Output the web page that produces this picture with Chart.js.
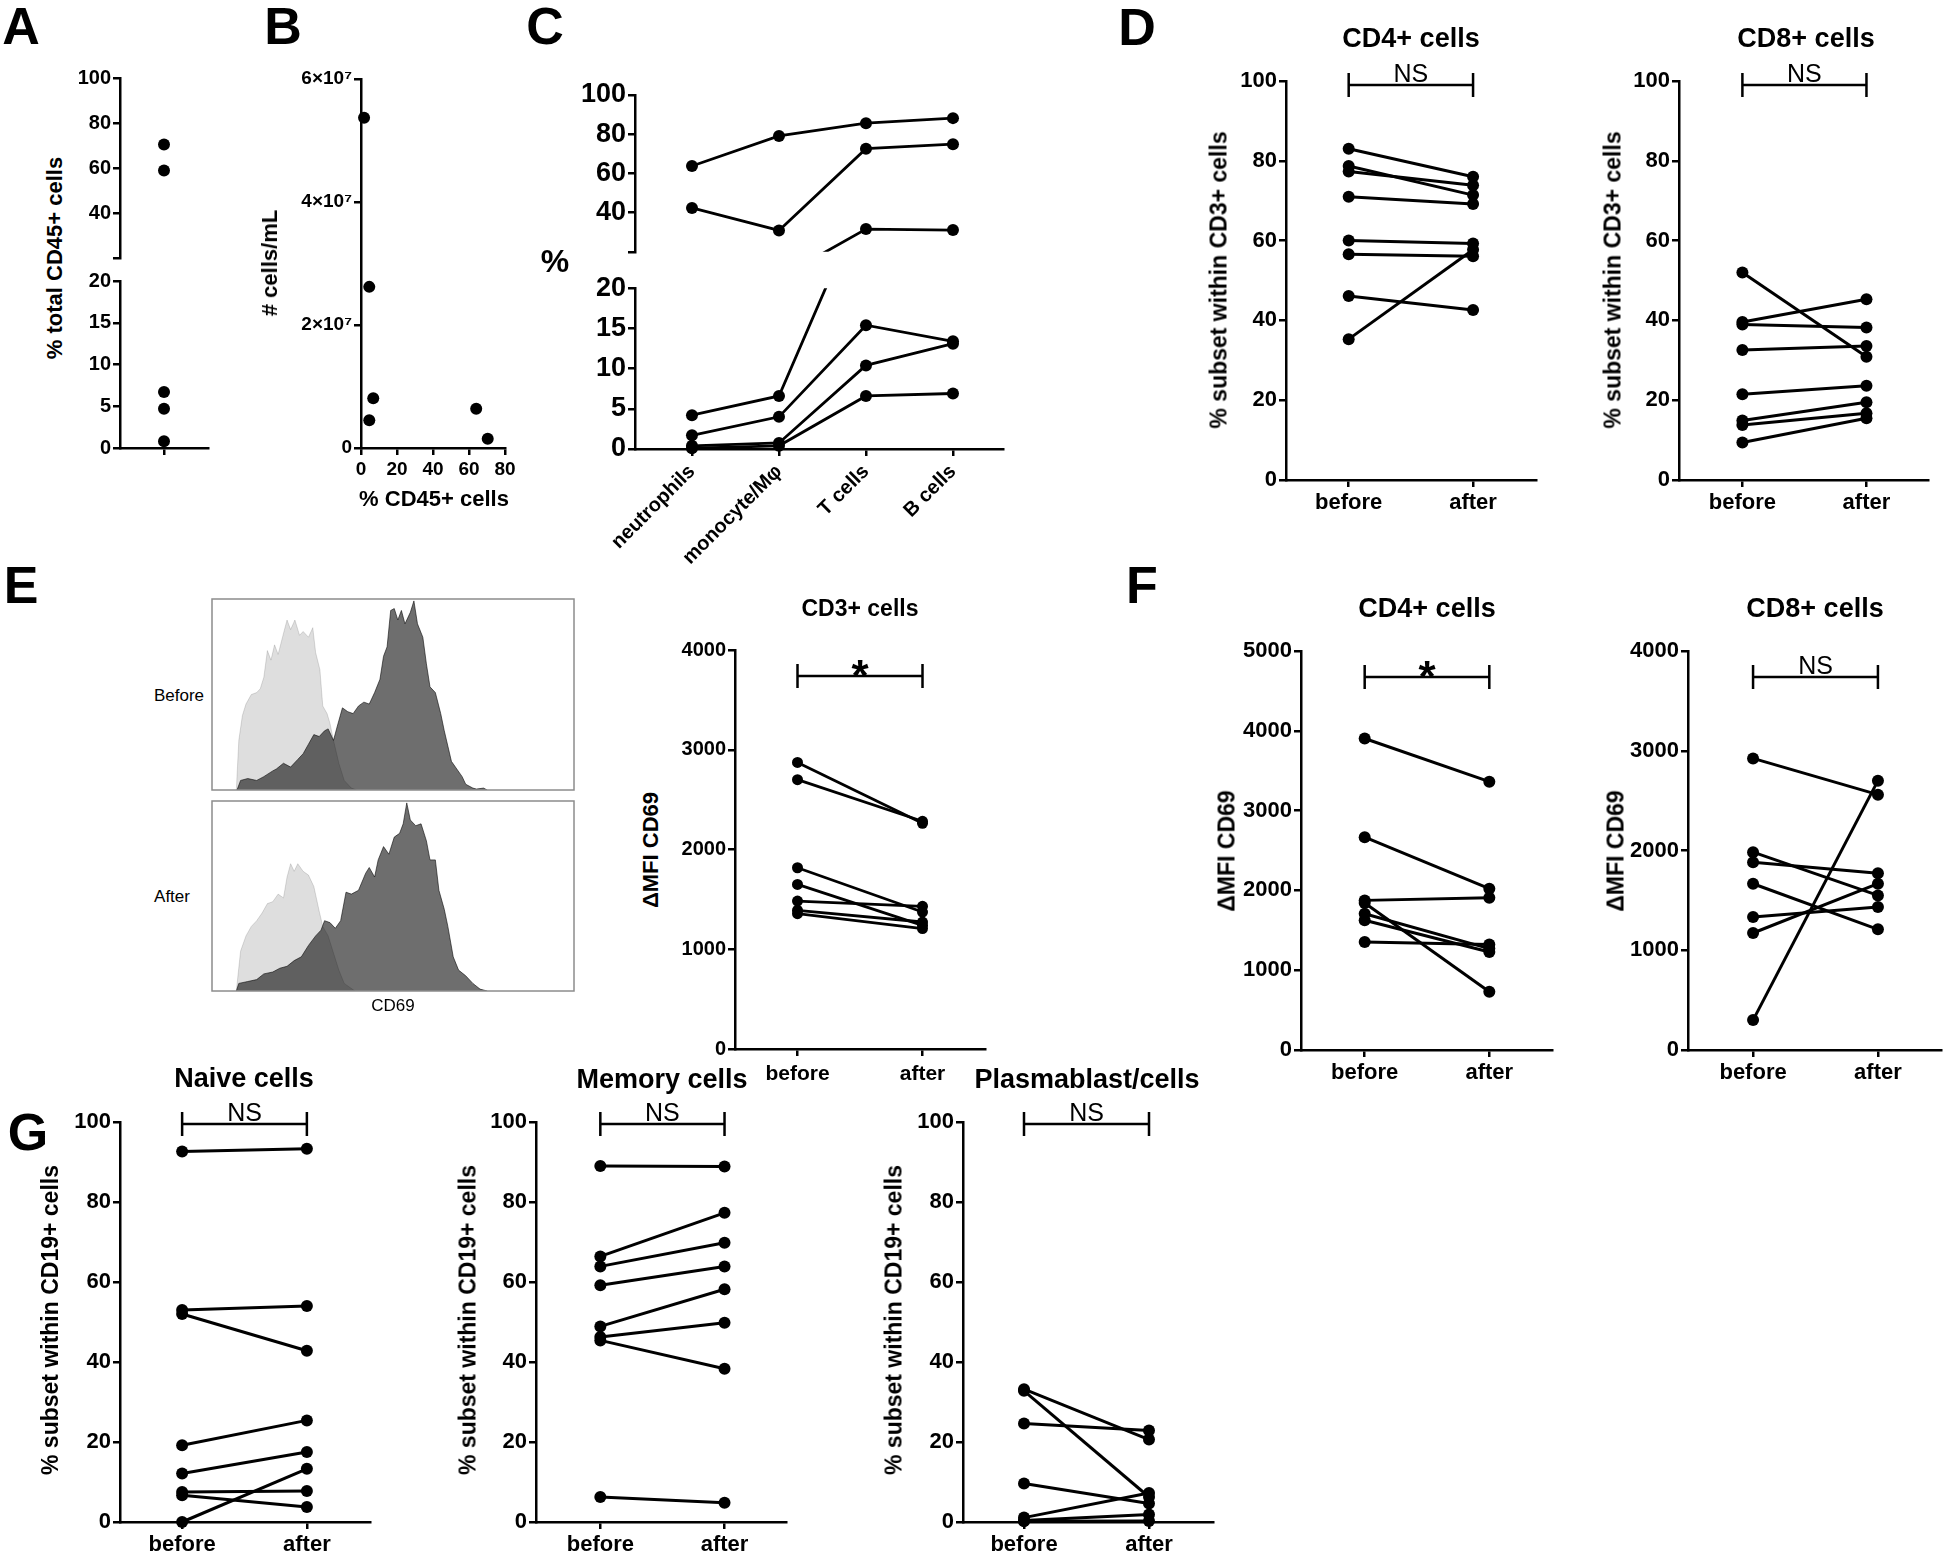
<!DOCTYPE html>
<html>
<head>
<meta charset="utf-8">
<script src="https://cdn.jsdelivr.net/npm/chart.js"></script>
<style>
    body { margin: 0; background: #fff; width: 1944px; height: 1555px; position: relative; overflow: hidden;
           font-family: "Liberation Sans", Arial, sans-serif; color: #000; }
    canvas { position: absolute; }
    .t { position: absolute; white-space: nowrap; line-height: 1; transform: translate(-50%, -50%); }
    .rot { transform: translate(-50%, -50%) rotate(-90deg); }
    .letter { font-weight: bold; font-size: 52px; }
    .ytitle { font-weight: bold; font-size: 23px; }
    .title { font-weight: bold; font-size: 27px; }
    .plain { font-size: 17px; }
</style>
</head>
<body>
<script>
// ---- data ----

// A: % total CD45+ cells
const aTotalCD45 = [70.4, 58.9, 6.7, 4.7, 0.8];

// B: cell counts vs % CD45+
const bPctCD45 = [1.7, 4.6, 6.8, 4.6, 64, 70.4];
const bCellsPerMl = [5.37e7, 2.62e7, 0.81e7, 0.45e7, 0.64e7, 0.15e7];

// C: composition per subject
const cCategories = ['neutrophils', 'monocyte/Mφ', 'T cells', 'B cells'];
const cNeutrophils = [63.8, 42.4, 4.2, 1.7, 0.4, 0.1];
const cMonocytes = [79.1, 30.9, 6.6, 4.0, 0.75, 0.4];
const cTCells = [85.6, 72.6, 31.6, 15.4, 10.4, 6.6];
const cBCells = [88.2, 74.9, 31.1, 13.4, 13.1, 6.9];

// before / after pairs
const timepoints = ['before', 'after'];

const cd4PctBefore = [83, 78.7, 77.3, 71, 60, 56.6, 46.1, 35.3];
const cd4PctAfter = [76, 71.4, 73.9, 69.2, 59.3, 56.1, 42.6, 57.7];
const cd8PctBefore = [52, 39.6, 39, 32.6, 21.5, 14.9, 13.8, 9.4];
const cd8PctAfter = [30.9, 45.3, 38.2, 33.6, 23.6, 19.5, 16.7, 15.5];

const cd3MfiBefore = [2873, 2700, 1817, 1650, 1483, 1390, 1357];
const cd3MfiAfter = [2263, 2283, 1373, 1240, 1430, 1273, 1207];

const cd4MfiBefore = [3904, 2667, 1875, 1842, 1708, 1625, 1354];
const cd4MfiAfter = [3363, 2021, 1908, 729, 1271, 1229, 1321];
const cd8MfiBefore = [2923, 300, 1983, 1883, 1667, 1333, 1173];
const cd8MfiAfter = [2560, 2700, 1550, 1773, 1210, 1433, 1667];

const naiveBefore = [92.6, 53, 52, 19.2, 12.1, 7.5, 6.7, 0];
const naiveAfter = [93.3, 54, 42.8, 25.4, 17.5, 7.75, 3.75, 13.3];
const memoryBefore = [89, 66.4, 63.9, 59.2, 48.9, 46.25, 45.4, 6.25];
const memoryAfter = [88.9, 77.3, 69.8, 63.9, 58.2, 49.8, 38.3, 4.8];
const plasmaBefore = [33.2, 32.8, 24.6, 9.6, 1.1, 0.4, 0.2];
const plasmaAfter = [20.6, 6.25, 22.9, 4.6, 7.25, 1.9, 0.25];

// E: CD69 histograms (channel, % of max count)
const histBeforeIsoX = [68, 75, 85, 95, 110, 125, 135, 145, 155, 165, 175, 185, 200, 210, 220, 232, 245, 255, 270, 282, 290, 302, 310, 322, 330, 340, 355, 370, 390, 405];
const histBeforeIsoY = [0, 26, 39, 45, 50, 51, 53, 59, 73, 68, 76, 71, 82, 89, 84, 89, 81, 83, 80, 85, 72, 63, 44, 40, 35, 26, 14, 5, 1, 0];
const histBeforeCd69X = [70, 80, 100, 125, 145, 170, 180, 200, 220, 240, 255, 270, 285, 300, 315, 325, 340, 350, 365, 380, 395, 410, 425, 440, 455, 470, 480, 490, 500, 510, 520, 530, 540, 555, 565, 575, 590, 600, 610, 625, 640, 650, 660, 670, 685, 700, 710, 730, 740, 760, 770];
const histBeforeCd69Y = [0, 5, 6, 5, 7, 10, 11, 14, 12, 16, 19, 24, 29, 28, 31, 32, 26, 33, 43, 41, 40, 44, 46, 45, 51, 58, 70, 75, 94, 95, 89, 94, 87, 93, 99, 87, 80, 66, 54, 51, 40, 31, 23, 15, 11, 7, 3, 1, 0.5, 1, 0];
const histAfterIsoX = [68, 80, 95, 110, 125, 140, 155, 170, 185, 200, 210, 220, 230, 240, 255, 270, 285, 300, 310, 325, 340, 355, 370, 400];
const histAfterIsoY = [0, 21, 29, 34, 37, 41, 46, 47, 51, 49, 60, 67, 63, 67, 63, 61, 55, 42, 34, 29, 20, 11, 4, 0];
const histAfterCd69X = [68, 75, 100, 125, 145, 170, 190, 210, 230, 250, 270, 290, 305, 315, 330, 345, 360, 375, 390, 410, 430, 440, 455, 465, 480, 495, 510, 525, 535, 545, 555, 570, 585, 600, 610, 625, 635, 650, 660, 675, 690, 710, 730, 750, 770];
const histAfterCd69Y = [0, 4, 5, 6, 9, 10, 12, 13, 16, 18, 24, 29, 32, 37, 36, 33, 37, 52, 51, 53, 62, 65, 60, 69, 76, 72, 81, 83, 88, 99, 90, 87, 88, 79, 69, 69, 53, 43, 34, 18, 11, 8, 4, 1, 0];

// ---- helpers ----
const BOLD = '"Liberation Sans", Arial, sans-serif';

function text(str, cx, cy, cls, size) {
    const d = document.createElement('div');
    d.className = 't ' + cls;
    d.textContent = str;
    d.style.left = cx + 'px';
    d.style.top = cy + 'px';
    if (size) d.style.fontSize = size + 'px';
    document.body.appendChild(d);
}

// area = [left, top, right, bottom] of the plot area; m = margins round it
function addCanvas(area, m) {
    const c = document.createElement('canvas');
    c.width = area[2] - area[0] + m[0] + m[2];
    c.height = area[3] - area[1] + m[1] + m[3];
    c.style.left = (area[0] - m[0]) + 'px';
    c.style.top = (area[1] - m[1]) + 'px';
    document.body.appendChild(c);
    return c;
}

function yAxis(o) {
    return {
        type: 'linear', min: o.min, max: o.max,
        afterFit: s => { s.width = o.w; },
        ticks: {
            stepSize: o.step, color: '#000', padding: 2, font: o.font,
            callback: o.cb || (v => v)
        },
        grid: { display: true, drawOnChartArea: false, drawTicks: true, tickLength: 7, color: '#000', lineWidth: 2.5 },
        border: { display: true, color: '#000', width: 2.5 }
    };
}

function xAxis(o) {
    const ax = {
        type: 'linear', min: o.min, max: o.max, display: o.display !== false,
        afterBuildTicks: s => { s.ticks = o.ticks.map(v => ({ value: v })); },
        ticks: {
            color: '#000', font: o.font, padding: o.pad || 3, autoSkip: false,
            maxRotation: o.rot || 0, minRotation: o.rot || 0,
            callback: (v, i) => (o.labels ? o.labels[i] : '')
        },
        grid: { display: true, drawOnChartArea: false, drawTicks: true, tickLength: 7, color: '#000', lineWidth: 2.5 },
        border: { display: true, color: '#000', width: 2.5 }
    };
    if (o.h) ax.afterFit = s => { s.height = o.h; };
    return ax;
}

// significance bracket between "before" (x=0) and "after" (x=1)
const bracketPlugin = {
    id: 'bracket',
    afterDraw(chart, args, o) {
        if (!o || o.y == null) return;
        const ctx = chart.ctx;
        const x0 = chart.scales.x.getPixelForValue(0);
        const x1 = chart.scales.x.getPixelForValue(1);
        const y = chart.scales.y.getPixelForValue(o.y);
        ctx.save();
        ctx.strokeStyle = '#000';
        ctx.lineWidth = 2.5;
        ctx.beginPath();
        ctx.moveTo(x0, y); ctx.lineTo(x1, y);
        ctx.moveTo(x0, y - 12); ctx.lineTo(x0, y + 12);
        ctx.moveTo(x1, y - 12); ctx.lineTo(x1, y + 12);
        ctx.stroke();
        ctx.fillStyle = '#000';
        ctx.textAlign = 'center';
        ctx.textBaseline = 'alphabetic';
        ctx.font = o.font;
        ctx.fillText(o.text, (x0 + x1) / 2, y + o.dy);
        ctx.restore();
    }
};

const multiplyPlugin = {
    id: 'multiply',
    beforeDatasetsDraw(chart) { chart.ctx.save(); chart.ctx.globalCompositeOperation = 'multiply'; },
    afterDatasetsDraw(chart) { chart.ctx.restore(); }
};

const framePlugin = {
    id: 'frame',
    afterDraw(chart) {
        const a = chart.chartArea, ctx = chart.ctx;
        ctx.save();
        ctx.strokeStyle = '#8c8c8c';
        ctx.lineWidth = 1.5;
        ctx.strokeRect(a.left, a.top, a.right - a.left, a.bottom - a.top);
        ctx.restore();
    }
};

function makeChart(area, m, type, datasets, scales, extra) {
    extra = extra || {};
    const canvas = addCanvas(area, m);
    const xHidden = scales.x.display === false;
    const yHidden = scales.y.display === false;
    return new Chart(canvas, {
        type: type,
        data: { datasets: datasets },
        options: {
            responsive: false,
            animation: false,
            events: [],
            layout: {
                autoPadding: false,
                padding: { left: yHidden ? m[0] : 0, top: m[1], right: m[2], bottom: xHidden ? m[3] : 0 }
            },
            plugins: Object.assign({ legend: { display: false }, tooltip: { enabled: false } }, extra.options || {}),
            scales: scales
        },
        plugins: extra.plugins || []
    });
}

function lineStyle(clip) {
    return {
        borderColor: '#000', borderWidth: 3, tension: 0,
        pointRadius: 6, pointBackgroundColor: '#000', pointBorderWidth: 0,
        clip: clip === undefined ? false : clip
    };
}

function pairedSets(before, after) {
    return before.map((b, i) => Object.assign({ data: [{ x: 0, y: b }, { x: 1, y: after[i] }] }, lineStyle()));
}

const pairTick = { family: BOLD, size: 22, weight: 'bold' };
const pairLab = { family: BOLD, size: 22, weight: 'bold' };
const nsOpts = y => ({ bracket: { y: y, text: 'NS', font: '25px ' + BOLD, dy: -3 } });
const starOpts = y => ({ bracket: { y: y, text: '*', font: 'bold 44px ' + BOLD, dy: 15 } });

function pairedChart(area, before, after, xr, yMax, yStep, bracket) {
    const m = [72, 50, 4, 48];
    return makeChart(area, m, 'line', pairedSets(before, after), {
        x: xAxis({ min: xr[0], max: xr[1], h: m[3], ticks: [0, 1], labels: timepoints, font: pairLab, pad: 3 }),
        y: yAxis({ min: 0, max: yMax, step: yStep, w: m[0], font: pairTick })
    }, { plugins: [bracketPlugin], options: bracket });
}

// ---- panel A (broken axis) ----
const aFont = { family: BOLD, size: 20, weight: 'bold' };
const aPoints = aTotalCD45.map(v => ({ x: 0, y: v }));
const aSet = clip => [{ data: aPoints, pointRadius: 6, pointBackgroundColor: '#000', pointBorderWidth: 0, clip: clip }];
makeChart([120, 78, 208, 262], [50, 15, 10, 10], 'scatter', aSet({ left: false, top: false, right: false, bottom: 0 }), {
    x: xAxis({ min: -1, max: 1, display: false, ticks: [0] }),
    y: yAxis({ min: 20, max: 100, step: 20, w: 50, font: aFont, cb: v => (v === 20 ? '' : v) })
});
makeChart([120, 277, 208, 448], [50, 10, 10, 20], 'scatter', aSet({ left: false, top: 0, right: false, bottom: false }), {
    x: xAxis({ min: -1, max: 1, h: 20, ticks: [0], font: aFont }),
    y: yAxis({ min: 0, max: 20, step: 5, w: 50, font: aFont })
});

// ---- panel B ----
const bFont = { family: BOLD, size: 19, weight: 'bold' };
makeChart([361, 79, 505, 448], [85, 15, 20, 40], 'scatter',
    [{ data: bPctCD45.map((v, i) => ({ x: v, y: bCellsPerMl[i] })), pointRadius: 6, pointBackgroundColor: '#000', pointBorderWidth: 0, clip: false }], {
    x: xAxis({ min: 0, max: 80, h: 40, ticks: [0, 20, 40, 60, 80], labels: ['0', '20', '40', '60', '80'], font: bFont, pad: 3 }),
    y: yAxis({ min: 0, max: 6e7, step: 2e7, w: 85, font: bFont, cb: v => (v === 0 ? '0' : (v / 1e7) + '×10⁷') })
});

// ---- panel C (broken axis) ----
const cTick = { family: BOLD, size: 27, weight: 'bold' };
const cLab = { family: BOLD, size: 20, weight: 'bold' };
const cSets = clip => cNeutrophils.map((v, i) => Object.assign({
    data: [v, cMonocytes[i], cTCells[i], cBCells[i]].map((y, k) => ({ x: k, y: y }))
}, lineStyle(clip), { borderWidth: 2.8 }));
makeChart([635, 95, 1003, 260], [75, 20, 10, 10], 'line', cSets({ left: false, top: false, right: false, bottom: 0 }), {
    x: xAxis({ min: -0.655, max: 3.575, display: false, ticks: [0, 1, 2, 3] }),
    y: yAxis({ min: 20, max: 100, step: 20, w: 75, font: cTick, cb: v => (v === 20 ? '' : v) })
});
makeChart([635, 280, 1003, 449], [75, 10, 10, 150], 'line', cSets({ left: false, top: 0, right: false, bottom: false }), {
    x: xAxis({ min: -0.655, max: 3.575, h: 150, ticks: [0, 1, 2, 3], labels: cCategories, font: cLab, rot: 45, pad: 4 }),
    y: yAxis({ min: 0, max: 20, step: 5, w: 75, font: cTick })
});

// ---- panel D ----
pairedChart([1286, 81, 1536, 480], cd4PctBefore, cd4PctAfter, [-0.504, 1.506], 100, 20, nsOpts(99));
pairedChart([1679, 81, 1928, 480], cd8PctBefore, cd8PctAfter, [-0.511, 1.496], 100, 20, nsOpts(99));

// ---- panel E histograms ----
function histChart(area, isoX, isoY, cdX, cdY) {
    const fillSet = (xs, ys, col) => ({
        data: xs.map((x, i) => ({ x: x, y: ys[i] })),
        fill: 'origin', backgroundColor: col, borderColor: col, borderWidth: 1,
        pointRadius: 0, tension: 0
    });
    makeChart(area, [2, 2, 2, 2], 'line', [fillSet(isoX, isoY, '#dedede'), fillSet(cdX, cdY, '#6e6e6e')], {
        x: { type: 'linear', min: 0, max: 1013, display: false },
        y: { type: 'linear', min: 0, max: 100, display: false }
    }, { plugins: [multiplyPlugin, framePlugin] });
}
histChart([212, 599, 574, 790], histBeforeIsoX, histBeforeIsoY, histBeforeCd69X, histBeforeCd69Y);
histChart([212, 801, 574, 991], histAfterIsoX, histAfterIsoY, histAfterCd69X, histAfterCd69Y);

// ---- panel E CD3+ ----
const eTick = { family: BOLD, size: 20, weight: 'bold' };
const eLab = { family: BOLD, size: 21, weight: 'bold' };
makeChart([735, 650, 985, 1049], [62, 50, 4, 40], 'line', pairedSets(cd3MfiBefore, cd3MfiAfter).map(d => Object.assign(d, { borderWidth: 2.8, pointRadius: 5.5 })), {
    x: xAxis({ min: -0.5, max: 1.5, h: 40, ticks: [0, 1], labels: timepoints, font: eLab, pad: 6 }),
    y: yAxis({ min: 0, max: 4000, step: 1000, w: 62, font: eTick })
}, { plugins: [bracketPlugin], options: starOpts(3740) });

// ---- panel F ----
pairedChart([1301, 651, 1552, 1050], cd4MfiBefore, cd4MfiAfter, [-0.511, 1.503], 5000, 1000, starOpts(4675));
pairedChart([1688, 651, 1941, 1050], cd8MfiBefore, cd8MfiAfter, [-0.521, 1.505], 4000, 1000, nsOpts(3740));

// ---- panel G ----
pairedChart([120, 1122, 370, 1522], naiveBefore, naiveAfter, [-0.498, 1.506], 100, 20, nsOpts(99.5));
pairedChart([536, 1122, 786, 1522], memoryBefore, memoryAfter, [-0.518, 1.495], 100, 20, nsOpts(99.5));
pairedChart([963, 1122, 1213, 1522], plasmaBefore, plasmaAfter, [-0.488, 1.512], 100, 20, nsOpts(99.5));

// ---- text ----
text('A', 21, 26, 'letter');
text('B', 283, 26, 'letter');
text('C', 545, 26, 'letter');
text('D', 1137, 27, 'letter');
text('E', 21, 585, 'letter');
text('F', 1142, 585, 'letter');
text('G', 28, 1132, 'letter');

text('% total CD45+ cells', 55, 258, 'ytitle rot', 22);
text('# cells/mL', 270, 263, 'ytitle rot', 22);
text('% CD45+ cells', 434, 499, 'ytitle', 22);
text('%', 555, 261, 'ytitle', 32);

text('CD4+ cells', 1411, 38, 'title');
text('CD8+ cells', 1806, 38, 'title');
text('% subset within CD3+ cells', 1219, 280, 'ytitle rot');
text('% subset within CD3+ cells', 1613, 280, 'ytitle rot');

text('Before', 179, 695, 'plain');
text('After', 172, 896, 'plain');
text('CD69', 393, 1005, 'plain');
text('CD3+ cells', 860, 608, 'ytitle');
text('ΔMFI CD69', 651, 850, 'ytitle rot', 22);

text('CD4+ cells', 1427, 608, 'title');
text('CD8+ cells', 1815, 608, 'title');
text('ΔMFI CD69', 1227, 851, 'ytitle rot');
text('ΔMFI CD69', 1616, 851, 'ytitle rot');

text('Naive cells', 244, 1078, 'title');
text('Memory cells', 662, 1079, 'title');
text('Plasmablast/cells', 1087, 1079, 'title');
text('% subset within CD19+ cells', 50, 1320, 'ytitle rot');
text('% subset within CD19+ cells', 468, 1320, 'ytitle rot');
text('% subset within CD19+ cells', 894, 1320, 'ytitle rot');
</script>
</body>
</html>
